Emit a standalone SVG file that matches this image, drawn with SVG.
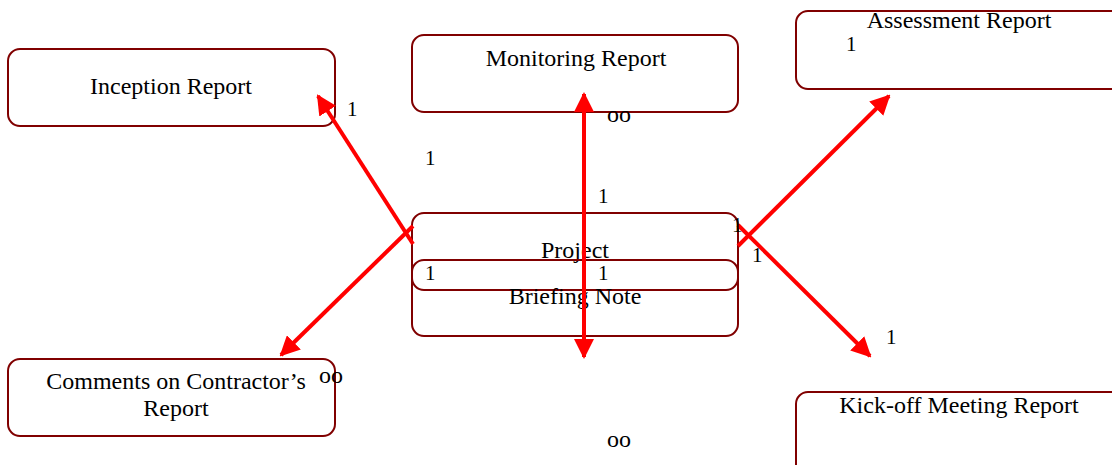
<svg xmlns="http://www.w3.org/2000/svg" width="1112" height="465" viewBox="0 0 1112 465">
  <style>
    .box { fill: #ffffff; stroke: #800000; stroke-width: 2; }
    .inner { fill: none; stroke: #800000; stroke-width: 2; }
    .lbl { font-family: "Liberation Serif", "Times New Roman", serif; font-size: 24px; fill: #000; text-anchor: middle; }
    .num { font-family: "Liberation Serif", "Times New Roman", serif; font-size: 21px; fill: #000; }
    .many { font-family: "Liberation Serif", "Times New Roman", serif; font-size: 24px; fill: #000; }
    .link { stroke: #ff0000; stroke-width: 4; fill: none; }
  </style>
  <defs>
    <marker id="head" viewBox="0 0 10 10" refX="9" refY="5" markerWidth="5" markerHeight="5" markerUnits="strokeWidth" orient="auto-start-reverse">
      <path d="M0,0 L10,5 L0,10 Z" fill="#ff0000"/>
    </marker>
  </defs>
  <rect width="1112" height="465" fill="#ffffff"/>

  <g id="inception">
    <rect class="box" x="8" y="49" width="327" height="77" rx="12"/>
    <text class="lbl" x="171" y="94">Inception Report</text>
  </g>
  <g id="monitoring">
    <rect class="box" x="412" y="35" width="326" height="77" rx="12"/>
    <text class="lbl" x="576" y="66">Monitoring Report</text>
  </g>
  <g id="assessment">
    <rect class="box" x="796" y="11" width="340" height="78" rx="12"/>
    <text class="lbl" x="959" y="28">Assessment Report</text>
  </g>
  <g id="comments">
    <rect class="box" x="8" y="359" width="327" height="77" rx="12"/>
    <text class="lbl" x="176" y="389">Comments on Contractor’s</text>
    <text class="lbl" x="176" y="416">Report</text>
  </g>
  <g id="kickoff">
    <rect class="box" x="796" y="392" width="340" height="90" rx="12"/>
    <text class="lbl" x="959" y="413">Kick-off Meeting Report</text>
  </g>
  <g id="briefing">
    <rect class="box" x="412" y="213" width="326" height="123" rx="12"/>
    <text class="lbl" x="575" y="258">Project</text>
    <rect class="inner" x="412" y="260" width="326" height="30" rx="12"/>
    <text class="lbl" x="575" y="304">Briefing Note</text>
  </g>

  <g id="connectors">
    <line class="link" x1="413" y1="244" x2="318" y2="96" marker-end="url(#head)"/>
    <line class="link" x1="413" y1="226" x2="281" y2="355" marker-end="url(#head)"/>
    <line class="link" x1="738" y1="246" x2="889" y2="96" marker-end="url(#head)"/>
    <line class="link" x1="738" y1="225" x2="870" y2="356" marker-end="url(#head)"/>
    <line class="link" x1="584" y1="94" x2="584" y2="357" marker-start="url(#head)" marker-end="url(#head)"/>
  </g>

  <g id="multiplicities">
    <text class="num" x="347" y="116">1</text>
    <text class="num" x="425" y="165">1</text>
    <text class="num" x="598" y="203">1</text>
    <text class="many" x="607" y="122">oo</text>
    <text class="num" x="846" y="51">1</text>
    <text class="num" x="732" y="232">1</text>
    <text class="num" x="752" y="262">1</text>
    <text class="num" x="425" y="280">1</text>
    <text class="num" x="598" y="280">1</text>
    <text class="many" x="319" y="383">oo</text>
    <text class="num" x="886" y="344">1</text>
    <text class="many" x="607" y="447">oo</text>
  </g>
</svg>
